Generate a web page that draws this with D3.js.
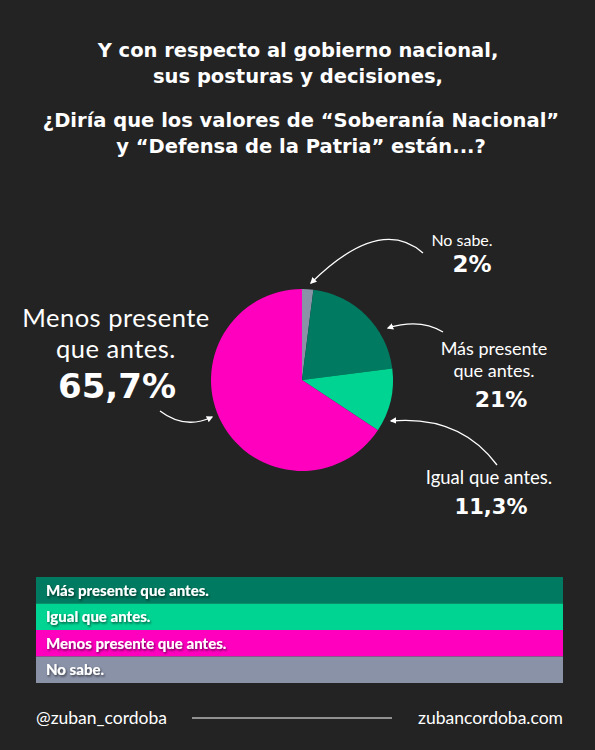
<!DOCTYPE html>
<html>
<head>
<meta charset="utf-8">
<script src="https://cdn.jsdelivr.net/npm/d3@7"></script>
<style>
  html, body { margin: 0; padding: 0; background: #232323; }
  text { font-family: Lato, "Open Sans", sans-serif; fill: #fff; }
  .wide { font-family: "DejaVu Sans", Lato, sans-serif; }
</style>
</head>
<body>
<div id="chart-area"></div>
<script>
const canvas_width = 595;
const canvas_height = 750;

const categories = ['No sabe.', 'Más presente que antes.', 'Igual que antes.', 'Menos presente que antes.'];
const values = [2, 21, 11.3, 65.7];
const value_labels = ['2%', '21%', '11,3%', '65,7%'];
const colors = ['#8a92a8', '#007a60', '#00d492', '#ff00bf'];

const legend_order = ['Más presente que antes.', 'Igual que antes.', 'Menos presente que antes.', 'No sabe.'];

const title_lines = ['Y con respecto al gobierno nacional,', 'sus posturas y decisiones,'];
const question_lines = ['¿Diría que los valores de  “Soberanía Nacional”', 'y “Defensa de la Patria” están...?'];

const center = { x: 302, y: 380 };
const radius = 91;

let canvas = d3.select('#chart-area').append('svg')
    .attr('width', canvas_width)
    .attr('height', canvas_height);

canvas.append('rect')
    .attr('width', canvas_width)
    .attr('height', canvas_height)
    .attr('fill', '#232323');

let defs = canvas.append('defs');
defs.append('marker')
    .attr('id', 'arrow')
    .attr('viewBox', '0 0 10 10')
    .attr('refX', 8).attr('refY', 5)
    .attr('markerWidth', 5).attr('markerHeight', 5)
    .attr('orient', 'auto-start-reverse')
  .append('path')
    .attr('d', 'M0,0 L10,5 L0,10 z')
    .attr('fill', '#fff');

let shadow = defs.append('filter').attr('id', 'shadow')
    .attr('x', '-10%').attr('y', '-30%').attr('width', '130%').attr('height', '160%');
shadow.append('feDropShadow')
    .attr('dx', 1).attr('dy', 1.5).attr('stdDeviation', 1)
    .attr('flood-color', '#000').attr('flood-opacity', 0.6);

// titles
canvas.append('g').selectAll('text').data(title_lines).enter().append('text')
    .attr('class', 'wide')
    .attr('x', 298)
    .attr('y', (d, i) => 57 + i * 26)
    .attr('text-anchor', 'middle')
    .attr('font-size', '19.5px')
    .attr('font-weight', 'bold')
    .text((d) => d);

canvas.append('g').selectAll('text').data(question_lines).enter().append('text')
    .attr('class', 'wide')
    .attr('x', 301)
    .attr('y', (d, i) => 127 + i * 26)
    .attr('text-anchor', 'middle')
    .attr('font-size', '19.5px')
    .attr('font-weight', 'bold')
    .text((d) => d);

// pie
let pie = d3.pie().sort(null).value((d) => d);
let arc = d3.arc().innerRadius(0).outerRadius(radius);
let colorScale = d3.scaleOrdinal().domain(categories).range(colors);

let pieGroup = canvas.append('g')
    .attr('transform', `translate(${center.x}, ${center.y})`);

pieGroup.selectAll('path').data(pie(values)).enter().append('path')
    .attr('d', arc)
    .attr('fill', (d, i) => colorScale(categories[i]));

// annotations
const labels = [
    { lines: ['No sabe.'], x: 462, y: 246, size: 16, lh: 22, ls: 0, valueSize: 23, vx: 472, vy: 272 },
    { lines: ['Más presente', 'que antes.'], x: 494, y: 355, size: 18, lh: 22, ls: 0, valueSize: 22, vx: 501, vy: 407 },
    { lines: ['Igual que antes.'], x: 489, y: 484, size: 18.5, lh: 22, ls: 0, valueSize: 21, vx: 491, vy: 514 },
    { lines: ['Menos presente', 'que antes.'], x: 116, y: 327, size: 25.5, lh: 31, ls: 0.5, valueSize: 34, vx: 117, vy: 398 }
];

labels.forEach((l, i) => {
    l.lines.forEach((t, j) => {
        canvas.append('text')
            .attr('x', l.x)
            .attr('y', l.y + j * l.lh)
            .attr('text-anchor', 'middle')
            .attr('font-size', `${l.size}px`)
            .attr('letter-spacing', l.ls)
            .text(t);
    });
    canvas.append('text')
        .attr('class', 'wide')
        .attr('x', l.vx)
        .attr('y', l.vy)
        .attr('text-anchor', 'middle')
        .attr('font-size', `${l.valueSize}px`)
        .attr('font-weight', 'bold')
        .text(value_labels[i]);
});

const arrows = [
    'M423,253 Q380,215 311,283',
    'M443,332 Q420,318 388,328',
    'M497,465 Q460,415 391,421',
    'M160,411 Q185,430 212,417'
];
canvas.append('g').selectAll('path').data(arrows).enter().append('path')
    .attr('d', (d) => d)
    .attr('fill', 'none')
    .attr('stroke', '#fff')
    .attr('stroke-width', 1.3)
    .attr('marker-end', 'url(#arrow)');

// legend
let y = d3.scaleBand().domain(legend_order).range([577, 683]);
let legend = canvas.append('g');
legend.selectAll('rect').data(legend_order).enter().append('rect')
    .attr('x', 36)
    .attr('y', (d) => y(d))
    .attr('width', 527)
    .attr('height', y.bandwidth())
    .attr('fill', (d) => colorScale(d));
legend.selectAll('text').data(legend_order).enter().append('text')
    .attr('x', 46)
    .attr('y', (d) => y(d) + y.bandwidth() / 2 + 5.5)
    .attr('font-size', '15px')
    .attr('font-weight', 900)
    .attr('filter', 'url(#shadow)')
    .text((d) => d);

// footer
canvas.append('text')
    .attr('x', 36).attr('y', 724)
    .attr('font-size', '17.5px')
    .text('@zuban_cordoba');
canvas.append('line')
    .attr('x1', 192).attr('x2', 392)
    .attr('y1', 718).attr('y2', 718)
    .attr('stroke', '#fff').attr('stroke-width', 1);
canvas.append('text')
    .attr('x', 563).attr('y', 724)
    .attr('text-anchor', 'end')
    .attr('font-size', '17.5px')
    .text('zubancordoba.com');
</script>
</body>
</html>
